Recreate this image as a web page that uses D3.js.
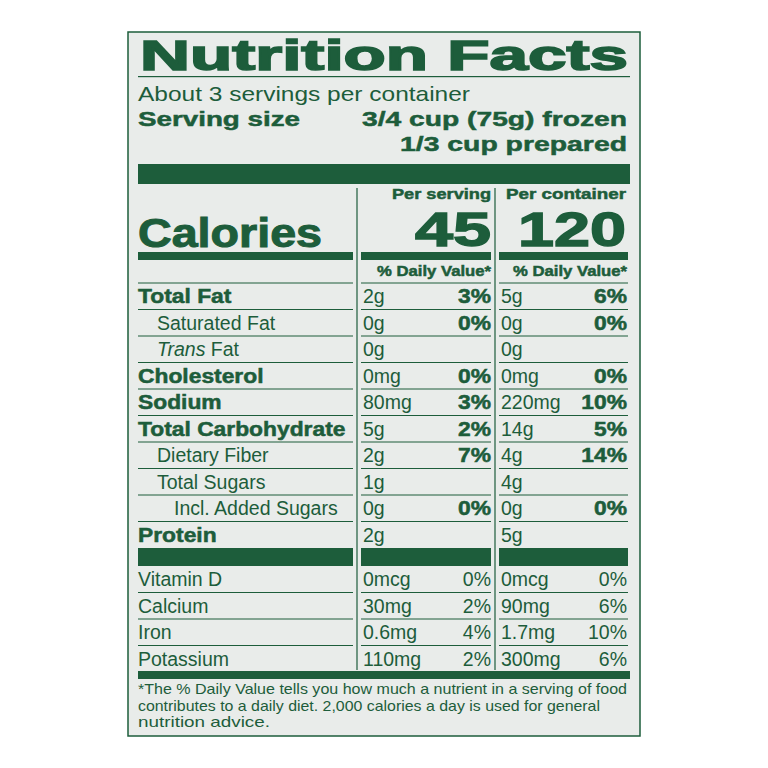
<!DOCTYPE html>
<html><head><meta charset="utf-8">
<script src="https://cdn.jsdelivr.net/npm/d3@7"></script>
<style>body{margin:0;background:#fff}</style>
</head><body><div id="chart"></div>
<script>
/* NUTRITION FACTS LABEL DATA */
const nutrients = ["Total Fat", "Saturated Fat", "Trans Fat", "Cholesterol", "Sodium",
    "Total Carbohydrate", "Dietary Fiber", "Total Sugars", "Incl. Added Sugars", "Protein"];
const indents = [0, 1, 1, 0, 0, 0, 1, 1, 2, 0];
const servingAmt = ["2g", "0g", "0g", "0mg", "80mg", "5g", "2g", "1g", "0g", "2g"];
const servingPct = ["3%", "0%", "", "0%", "3%", "2%", "7%", "", "0%", ""];
const containerAmt = ["5g", "0g", "0g", "0mg", "220mg", "14g", "4g", "4g", "0g", "5g"];
const containerPct = ["6%", "0%", "", "0%", "10%", "5%", "14%", "", "0%", ""];

const vitamins = ["Vitamin D", "Calcium", "Iron", "Potassium"];
const vitServingAmt = ["0mcg", "30mg", "0.6mg", "110mg"];
const vitServingPct = ["0%", "2%", "4%", "2%"];
const vitContainerAmt = ["0mcg", "90mg", "1.7mg", "300mg"];
const vitContainerPct = ["0%", "6%", "10%", "6%"];

const calories = ["45", "120"];
const footnote = ["*The % Daily Value tells you how much a nutrient in a serving of food",
    "contributes to a daily diet. 2,000 calories a day is used for general",
    "nutrition advice."];

const green = "#1d5d3b";
const font = "'Liberation Sans', Arial, sans-serif";
const svg = d3.select("#chart").append("svg").attr("width", 768).attr("height", 768);

svg.append("rect").attr("x", 128).attr("y", 32).attr("width", 512).attr("height", 704)
    .attr("fill", "#e9ecea").attr("stroke", green).attr("stroke-width", 1.5);

// bold face in the reference is wider and heavier than Liberation Sans Bold
function text(x, y, s, size, opts = {}) {
    const t = svg.append("text").attr("x", x).attr("y", y).text(s)
        .attr("font-family", font).attr("font-size", size).attr("fill", green)
        .attr("font-weight", opts.bold ? "bold" : "normal")
        .attr("font-style", opts.italic ? "italic" : "normal")
        .attr("text-anchor", opts.anchor || "start");
    const w = opts.width || (opts.bold && s ? t.node().getComputedTextLength() * 1.17 : 0);
    if (w) t.attr("textLength", w).attr("lengthAdjust", "spacingAndGlyphs");
    if (opts.bold) t.attr("stroke", green).attr("stroke-width", opts.stroke || 0.5);
    return t;
}
function bar(x1, x2, y, h) {
    svg.append("rect").attr("x", x1).attr("y", y).attr("width", x2 - x1).attr("height", h).attr("fill", green);
}

/* HEADER */
text(140, 70, "Nutrition Facts", 42, { bold: true, width: 488, stroke: 1.6 });
bar(138, 630, 76, 1.2);
text(138, 101, "About 3 servings per container", 21, { width: 332 });
text(138, 126, "Serving size", 21, { bold: true, width: 162 });
text(627, 126, "3/4 cup (75g) frozen", 21, { bold: true, anchor: "end", width: 265 });
text(627, 151, "1/3 cup prepared", 21, { bold: true, anchor: "end", width: 227 });
bar(138, 630, 164, 20);

/* COLUMNS */
const cols = [[138, 353], [361, 491], [499, 628]];
svg.append("line").attr("x1", 357).attr("x2", 357).attr("y1", 188).attr("y2", 670).attr("stroke", green).attr("stroke-width", 1.2);
svg.append("line").attr("x1", 495).attr("x2", 495).attr("y1", 188).attr("y2", 670).attr("stroke", green).attr("stroke-width", 1.2);

text(491, 199, "Per serving", 15, { bold: true, anchor: "end", width: 99 });
text(626, 199, "Per container", 15, { bold: true, anchor: "end", width: 120 });
text(138, 247, "Calories", 40, { bold: true, width: 184, stroke: 1 });
text(491, 246, calories[0], 48, { bold: true, anchor: "end", width: 76, stroke: 1.4 });
text(626, 246, calories[1], 48, { bold: true, anchor: "end", width: 108, stroke: 1.4 });
cols.forEach(c => bar(c[0], c[1], 252, 8));
text(491, 276, "% Daily Value*", 14.5, { bold: true, anchor: "end", width: 114 });
text(627, 276, "% Daily Value*", 14.5, { bold: true, anchor: "end", width: 114 });

function hline(y) {
    cols.forEach(c => svg.append("line").attr("x1", c[0]).attr("x2", c[1]).attr("y1", y).attr("y2", y)
        .attr("stroke", green).attr("stroke-width", 1));
}
hline(283);

/* NUTRIENT ROWS */
const yRows = d3.scaleBand().domain(nutrients).range([283, 548]);
nutrients.forEach((n, i) => {
    const y = yRows(n) + yRows.bandwidth() / 2 + 7;
    const bold = indents[i] === 0;
    const x = [138, 157, 174][indents[i]];
    if (n === "Trans Fat") {
        const t = text(x, y, "", 19.5);
        t.append("tspan").attr("font-style", "italic").text("Trans");
        t.append("tspan").text(" Fat");
    } else {
        text(x, y, n, 19.5, { bold: bold });
    }
    text(363, y, servingAmt[i], 19.5);
    text(491, y, servingPct[i], 19.5, { bold: true, anchor: "end" });
    text(501, y, containerAmt[i], 19.5);
    text(627, y, containerPct[i], 19.5, { bold: true, anchor: "end" });
    if (i < nutrients.length - 1) hline(yRows(n) + yRows.bandwidth());
});
cols.forEach(c => bar(c[0], c[1], 548, 18));

/* VITAMINS */
const yVit = d3.scaleBand().domain(vitamins).range([566, 672]);
vitamins.forEach((n, i) => {
    const y = yVit(n) + yVit.bandwidth() / 2 + 7;
    text(138, y, n, 19.5);
    text(363, y, vitServingAmt[i], 19.5);
    text(491, y, vitServingPct[i], 19.5, { anchor: "end" });
    text(501, y, vitContainerAmt[i], 19.5);
    text(627, y, vitContainerPct[i], 19.5, { anchor: "end" });
    if (i < vitamins.length - 1) hline(yVit(n) + yVit.bandwidth());
});
bar(138, 630, 671, 8);

/* FOOTNOTE */
const footW = [489, 462, 132];
footnote.forEach((s, i) => text(138, 694 + i * 16.5, s, 14.5, { width: footW[i] }));
</script></body></html>
